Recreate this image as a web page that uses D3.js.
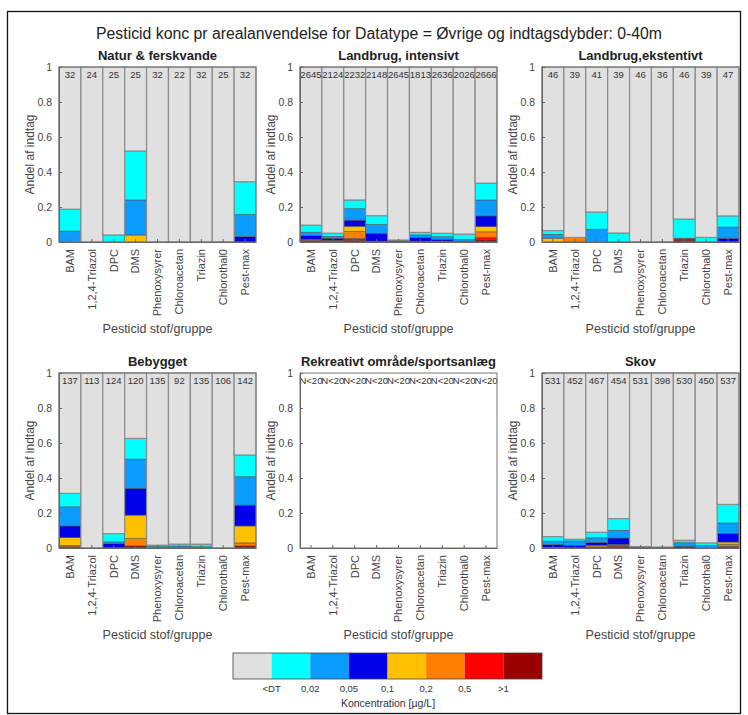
<!DOCTYPE html>
<html>
<head>
<meta charset="utf-8">
<script src="https://cdn.jsdelivr.net/npm/d3@7"></script>
<style>
  body { margin: 0; background: #fff; }
  text { font-family: "Liberation Sans", Arial, sans-serif; }
</style>
</head>
<body>
<div id="chart"></div>
<script>
const width = 748;
const height = 715;

// pesticid grupper (x)
const stoffer = ["BAM", "1,2,4-Triazol", "DPC", "DMS", "Phenoxysyrer", "Chloroacetan", "Triazin", "Chlorothal0", "Pest-max"];

// koncentrationsklasser, nederst -> øverst i søjlen
const klasser = [">1", "0,5-1", "0,2-0,5", "0,1-0,2", "0,05-0,1", "0,02-0,05", "DT-0,02"];
const klasseFarver = ["#990000", "#ff0000", "#ff8000", "#ffc000", "#0000e8", "#0a9cff", "#00ffff"];
const graa = "#e0e0e0";

// legend (venstre -> højre)
const legendFarver = [graa, "#00ffff", "#0a9cff", "#0000e8", "#ffc000", "#ff8000", "#ff0000", "#990000"];
const legendLabels = ["<DT", "0,02", "0,05", "0,1", "0,2", "0,5", ">1"];

// antal indtag pr stof
const naturAntal = [32, 24, 25, 25, 32, 22, 32, 25, 32];
const intensivAntal = [2645, 2124, 2232, 2148, 2645, 1813, 2636, 2026, 2666];
const ekstensivAntal = [46, 39, 41, 39, 46, 36, 46, 39, 47];
const bebyggetAntal = [137, 113, 124, 120, 135, 92, 135, 106, 142];
const rekreativAntal = ["N<20", "N<20", "N<20", "N<20", "N<20", "N<20", "N<20", "N<20", "N<20"];
const skovAntal = [531, 452, 467, 454, 531, 398, 530, 450, 537];

// andele pr klasse [>1, 0,5-1, 0,2-0,5, 0,1-0,2, 0,05-0,1, 0,02-0,05, DT-0,02]
const naturAndele = [
  [0, 0, 0, 0, 0, 0.0625, 0.125],
  [0, 0, 0, 0, 0, 0, 0],
  [0, 0, 0, 0, 0, 0, 0.04],
  [0, 0, 0, 0.04, 0, 0.20, 0.28],
  [0, 0, 0, 0, 0, 0, 0],
  [0, 0, 0, 0, 0, 0, 0],
  [0, 0, 0, 0, 0, 0, 0],
  [0, 0, 0, 0, 0, 0, 0],
  [0, 0, 0, 0, 0.031, 0.125, 0.188]
];
const intensivAndele = [
  [0.008, 0, 0.004, 0.004, 0.02, 0.02, 0.04],
  [0.005, 0, 0.003, 0.002, 0.012, 0.01, 0.018],
  [0.01, 0.01, 0.04, 0.03, 0.035, 0.065, 0.05],
  [0.005, 0, 0, 0, 0.045, 0.05, 0.05],
  [0.003, 0, 0, 0, 0.004, 0, 0.004],
  [0.005, 0, 0, 0, 0.02, 0.015, 0.015],
  [0.005, 0, 0, 0, 0.01, 0.015, 0.02],
  [0, 0, 0, 0, 0.005, 0.01, 0.03],
  [0.012, 0.014, 0.032, 0.03, 0.061, 0.091, 0.096]
];
const ekstensivAndele = [
  [0, 0, 0, 0.0217, 0, 0.0217, 0.0217],
  [0, 0, 0.026, 0, 0, 0, 0],
  [0, 0, 0, 0, 0, 0.073, 0.098],
  [0, 0, 0, 0, 0, 0, 0.051],
  [0, 0, 0, 0, 0, 0, 0],
  [0, 0, 0, 0, 0, 0, 0],
  [0.0109, 0.0109, 0, 0, 0, 0, 0.109],
  [0, 0, 0, 0, 0, 0, 0.026],
  [0, 0, 0, 0, 0.0213, 0.0638, 0.0638]
];
const bebyggetAndele = [
  [0.007, 0, 0.008, 0.045, 0.066, 0.109, 0.077],
  [0, 0, 0, 0, 0, 0, 0],
  [0, 0, 0, 0, 0.025, 0.01, 0.047],
  [0.012, 0, 0.042, 0.134, 0.153, 0.167, 0.118],
  [0, 0, 0, 0, 0, 0.008, 0.008],
  [0, 0, 0, 0, 0, 0.011, 0.011],
  [0, 0, 0, 0, 0, 0.007, 0.0148],
  [0, 0, 0, 0, 0, 0, 0],
  [0.012, 0, 0.017, 0.097, 0.119, 0.162, 0.124]
];
const skovAndele = [
  [0.004, 0, 0, 0, 0.015, 0.02, 0.026],
  [0, 0, 0, 0, 0.015, 0.025, 0.01],
  [0.006, 0, 0.01, 0, 0.016, 0.026, 0.032],
  [0.01, 0.005, 0, 0.005, 0.037, 0.044, 0.067],
  [0.004, 0, 0, 0, 0.004, 0, 0],
  [0, 0, 0, 0, 0.003, 0, 0.003],
  [0, 0, 0, 0, 0.01, 0.02, 0.014],
  [0, 0, 0, 0, 0, 0.014, 0.015],
  [0.01, 0, 0.012, 0.012, 0.048, 0.061, 0.106]
];

const panels = [
  {titel: "Natur & ferskvande", antal: naturAntal, andele: naturAndele, col: 0, row: 0},
  {titel: "Landbrug, intensivt", antal: intensivAntal, andele: intensivAndele, col: 1, row: 0},
  {titel: "Landbrug,ekstentivt", antal: ekstensivAntal, andele: ekstensivAndele, col: 2, row: 0},
  {titel: "Bebygget", antal: bebyggetAntal, andele: bebyggetAndele, col: 0, row: 1},
  {titel: "Rekreativt område/sportsanlæg", antal: rekreativAntal, andele: null, col: 1, row: 1},
  {titel: "Skov", antal: skovAntal, andele: skovAndele, col: 2, row: 1}
];

const lefts = [59, 300, 542];
const tops = [67, 373];
const pw = 197;
const ph = 175;

const svg = d3.select("#chart").append("svg")
  .attr("width", width)
  .attr("height", height);

// ramme
svg.append("rect")
  .attr("x", 7.5).attr("y", 11.5)
  .attr("width", 733).attr("height", 702)
  .attr("fill", "none").attr("stroke", "#111").attr("stroke-width", 1.3);

// titel
svg.append("text")
  .attr("x", 379).attr("y", 39)
  .attr("text-anchor", "middle")
  .attr("font-size", 15.8)
  .attr("fill", "#222")
  .text("Pesticid konc pr arealanvendelse for Datatype = Øvrige og indtagsdybder: 0-40m");

const farve = d3.scaleOrdinal().domain([...klasser, "ikke"]).range([...klasseFarver, graa]);

panels.forEach(p => {
  const left = lefts[p.col];
  const top = tops[p.row];
  const g = svg.append("g").attr("transform", `translate(${left},${top})`);

  const x = d3.scaleBand().domain(stoffer).range([0, pw]).padding(0);
  const y = d3.scaleLinear().domain([0, 1]).range([ph, 0]);

  if (p.andele) {
    const rows = stoffer.map((s, i) => {
      const r = {stof: s};
      klasser.forEach((k, j) => r[k] = p.andele[i][j]);
      r.ikke = 1 - d3.sum(p.andele[i]);
      return r;
    });
    const series = d3.stack().keys([...klasser, "ikke"])(rows);

    g.selectAll("g.serie")
      .data(series).enter()
      .append("g")
      .attr("fill", d => farve(d.key))
      .attr("stroke", d => d.key === "ikke" ? "#8a8a8a" : "#555")
      .attr("stroke-width", d => d.key === "ikke" ? 1.2 : 0.6)
      .selectAll("rect")
      .data(d => d.filter(v => v[1] - v[0] > 0)).enter()
      .append("rect")
      .attr("x", d => x(d.data.stof))
      .attr("width", x.bandwidth())
      .attr("y", d => y(d[1]))
      .attr("height", d => y(d[0]) - y(d[1]));
  }

  // antal
  g.append("g")
    .selectAll("text")
    .data(stoffer).enter()
    .append("text")
    .attr("x", d => x(d) + x.bandwidth() / 2)
    .attr("y", y(1) + 10.5)
    .attr("text-anchor", "middle")
    .attr("font-size", 9.5)
    .attr("fill", "#333")
    .text((d, i) => p.antal[i]);

  // kasse
  g.append("rect")
    .attr("width", pw).attr("height", ph)
    .attr("fill", "none").attr("stroke", "#777").attr("stroke-width", 1);

  // Y Axis
  const yAx = g.append("g")
    .call(d3.axisLeft(y)
      .tickValues([0, 0.2, 0.4, 0.6, 0.8, 1])
      .tickFormat(d => d)
      .tickSizeInner(-3).tickSizeOuter(0).tickPadding(7));
  yAx.select(".domain").attr("stroke", "#666");
  yAx.selectAll("line").attr("stroke", "#666");
  yAx.selectAll("text").attr("font-size", 10.5).attr("fill", "#444");

  // X Axis
  const xAx = g.append("g")
    .attr("transform", `translate(0,${ph})`)
    .call(d3.axisBottom(x).tickSizeInner(-3).tickSizeOuter(0));
  xAx.select(".domain").attr("stroke", "#666");
  xAx.selectAll("line").attr("stroke", "#666");
  xAx.selectAll("text")
    .attr("transform", "rotate(-90)")
    .attr("text-anchor", "end")
    .attr("x", -7).attr("y", 0).attr("dy", "0.35em")
    .attr("font-size", 11).attr("fill", "#444");

  // titler
  g.append("text")
    .attr("x", pw / 2).attr("y", -7)
    .attr("text-anchor", "middle")
    .attr("font-size", 13).attr("font-weight", "bold")
    .attr("fill", "#222")
    .text(p.titel);

  g.append("text")
    .attr("transform", `translate(-25,${ph / 2}) rotate(-90)`)
    .attr("text-anchor", "middle")
    .attr("font-size", 12).attr("fill", "#444")
    .text("Andel af indtag");

  g.append("text")
    .attr("x", pw / 2).attr("y", ph + 91)
    .attr("text-anchor", "middle")
    .attr("font-size", 12.5).attr("fill", "#444")
    .text("Pesticid stof/gruppe");
});

// farvebjælke
const lx = d3.scaleBand().domain(d3.range(legendFarver.length)).range([233, 542]).padding(0);
const legend = svg.append("g");
legend.selectAll("rect")
  .data(legendFarver).enter()
  .append("rect")
  .attr("x", (d, i) => lx(i))
  .attr("y", 653)
  .attr("width", lx.bandwidth())
  .attr("height", 26)
  .attr("fill", d => d);
legend.append("rect")
  .attr("x", 233).attr("y", 653).attr("width", 309).attr("height", 26)
  .attr("fill", "none").attr("stroke", "#444").attr("stroke-width", 0.8);
legend.selectAll("text.lab")
  .data(legendLabels).enter()
  .append("text")
  .attr("x", (d, i) => lx(i + 1))
  .attr("y", 692)
  .attr("text-anchor", "middle")
  .attr("font-size", 9.5)
  .attr("fill", "#333")
  .text(d => d);
legend.append("text")
  .attr("x", 388).attr("y", 707)
  .attr("text-anchor", "middle")
  .attr("font-size", 10.5)
  .attr("fill", "#333")
  .text("Koncentration [µg/L]");
</script>
</body>
</html>
